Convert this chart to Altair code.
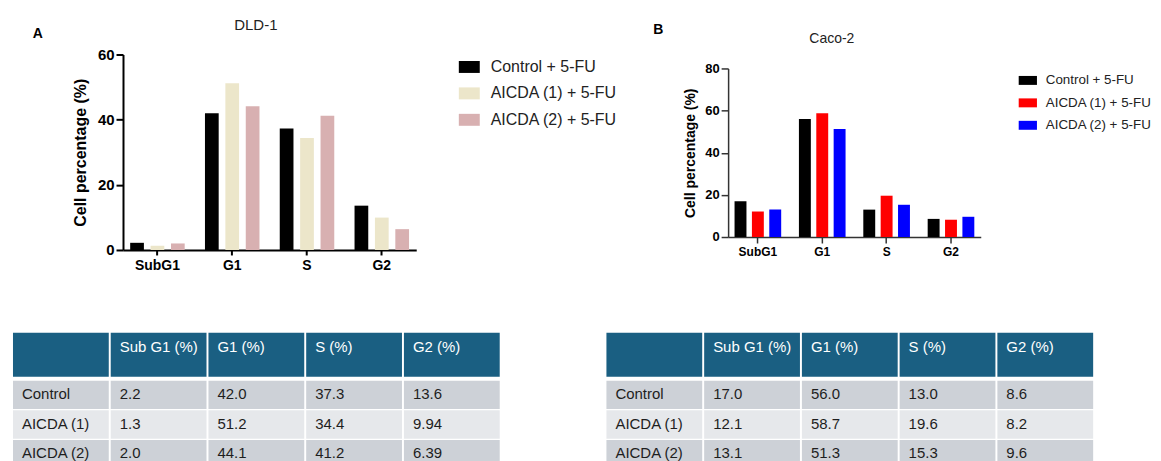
import altair as alt
import pandas as pd

# ---------------- data ----------------
phases = ["SubG1", "G1", "S", "G2"]
series = ["Control + 5-FU", "AICDA (1) + 5-FU", "AICDA (2) + 5-FU"]

dld1_control = [2.2, 42.0, 37.3, 13.6]
dld1_aicda1 = [1.3, 51.2, 34.4, 9.94]
dld1_aicda2 = [2.0, 44.1, 41.2, 6.39]

caco2_control = [17.0, 56.0, 13.0, 8.6]
caco2_aicda1 = [12.1, 58.7, 19.6, 8.2]
caco2_aicda2 = [13.1, 51.3, 15.3, 9.6]

panel_letters = ["A", "B"]
panel_titles = ["DLD-1", "Caco-2"]

table_columns = ["", "Sub G1 (%)", "G1 (%)", "S (%)", "G2 (%)"]
table_rows = ["Control", "AICDA (1)", "AICDA (2)"]
dld1_table = [["2.2", "42.0", "37.3", "13.6"],
              ["1.3", "51.2", "34.4", "9.94"],
              ["2.0", "44.1", "41.2", "6.39"]]
caco2_table = [["17.0", "56.0", "13.0", "8.6"],
               ["12.1", "58.7", "19.6", "8.2"],
               ["13.1", "51.3", "15.3", "9.6"]]

FONT = "Liberation Sans"
CELL_W = 488


def bar_panel(value_lists, colors, letter, title, cfg):
    rows = []
    for s, vals in zip(series, value_lists):
        for p, v in zip(phases, vals):
            rows.append({"phase": p, "series": s, "value": v})
    df = pd.DataFrame(rows)

    bars = alt.Chart(df).mark_bar().encode(
        x=alt.X("phase:N", sort=phases,
                scale=alt.Scale(domain=phases, range=cfg["xrange"], round=False,
                                paddingInner=cfg["pi"], paddingOuter=cfg["po"]),
                axis=alt.Axis(title=None, labelAngle=0, labelFontSize=cfg["xlab"],
                              labelFontWeight="bold", labelColor="black",
                              labelPadding=cfg["xlabpad"], tickSize=cfg["xtick"],
                              tickWidth=cfg["lw"], tickColor=cfg["axcol"],
                              domainColor=cfg["axcol"], domainWidth=cfg["lw"], grid=False)),
        xOffset=alt.XOffset("series:N", sort=series,
                            scale=alt.Scale(domain=series, round=False,
                                            paddingInner=cfg["opi"], paddingOuter=0)),
        y=alt.Y("value:Q",
                scale=alt.Scale(domain=[0, cfg["ymax"]], range=cfg["yrange"], nice=False),
                axis=alt.Axis(title="Cell percentage (%)", values=cfg["yvals"],
                              offset=-cfg["xrange"][0],
                              titleFontSize=cfg["ytitle"], titleFontWeight="bold",
                              titleColor="black", titlePadding=cfg["ytpad"],
                              labelFontSize=cfg["ylab"], labelFontWeight="bold",
                              labelColor="black", labelPadding=2,
                              tickSize=7, tickWidth=cfg["lw"], tickColor=cfg["axcol"],
                              domainColor=cfg["axcol"], domainWidth=cfg["lw"], grid=False)),
        color=alt.Color("series:N", sort=series,
                        scale=alt.Scale(domain=series, range=colors),
                        legend=alt.Legend(title=None, orient="none",
                                          legendX=cfg["legx"], legendY=cfg["legy"],
                                          symbolType=cfg["sym"], symbolSize=cfg["symsize"],
                                          symbolStrokeWidth=0, symbolOpacity=1,
                                          labelFontSize=cfg["leglab"], labelColor="#222222",
                                          labelOffset=cfg["laboff"], rowPadding=cfg["rowpad"],
                                          padding=0)),
    )

    letter_mark = alt.Chart(pd.DataFrame({"t": [letter]})).mark_text(
        align="left", baseline="alphabetic", fontSize=14, fontWeight="bold", color="black"
    ).encode(text="t:N", x=alt.value(cfg["letter_xy"][0]), y=alt.value(cfg["letter_xy"][1]))

    title_mark = alt.Chart(pd.DataFrame({"t": [title]})).mark_text(
        align="center", baseline="alphabetic", fontSize=cfg["titlefs"], color="#222222"
    ).encode(text="t:N", x=alt.value(cfg["title_xy"][0]), y=alt.value(cfg["title_xy"][1]))

    return alt.layer(bars, letter_mark, title_mark).properties(width=CELL_W, height=cfg["h"])


def table_panel(values):
    keys = ["c0", "c1", "c2", "c3", "c4"]
    head = pd.DataFrame({"col": keys, "label": table_columns, "part": ["header"] * 5})
    body_rows = []
    for r, vals in zip(table_rows, values):
        for k, t in zip(keys, [r] + vals):
            body_rows.append({"row": r, "col": k, "txt": t})
    body = pd.DataFrame(body_rows)

    xs = alt.Scale(domain=keys, range=[0, CELL_W], round=False, paddingInner=0.02, paddingOuter=0)
    yh = alt.Scale(domain=["header"], range=[0, 44], round=False, paddingInner=0, paddingOuter=0)
    yb = alt.Scale(domain=table_rows, range=[48, 136], round=False, paddingInner=0.045, paddingOuter=0)

    head_rect = alt.Chart(head).mark_rect(color="#1a5f82").encode(
        x=alt.X("col:N", scale=xs, axis=None),
        y=alt.Y("part:N", scale=yh, axis=None))
    head_text = alt.Chart(head).mark_text(
        align="left", baseline="middle", dx=9, dy=-7.3, fontSize=15, color="white"
    ).encode(
        x=alt.X("col:N", scale=xs, axis=None, bandPosition=0),
        y=alt.Y("part:N", scale=yh, axis=None),
        text="label:N")
    body_rect = alt.Chart(body).mark_rect().encode(
        x=alt.X("col:N", scale=xs, axis=None),
        y=alt.Y("row:N", scale=yb, axis=None),
        color=alt.Color("row:N", scale=alt.Scale(domain=table_rows,
                                                 range=["#cdd1d7", "#e6e8eb", "#cdd1d7"]),
                        legend=None))
    body_text = alt.Chart(body).mark_text(
        align="left", baseline="middle", dx=9, dy=-1, fontSize=15, color="#1e1e1e"
    ).encode(
        x=alt.X("col:N", scale=xs, axis=None, bandPosition=0),
        y=alt.Y("row:N", scale=yb, axis=None),
        text="txt:N")
    return alt.layer(head_rect, head_text, body_rect, body_text).resolve_scale(
        y="independent").properties(width=CELL_W, height=140)


cfg_a = dict(xrange=[110.3, 404.3], pi=0.271, po=0.096, opi=0.327,
             ymax=60, yvals=[0, 20, 40, 60], yrange=[196, 0], h=196,
             xlab=14, xlabpad=4, xtick=5, lw=2, axcol="black",
             ytitle=16, ytpad=9, ylab=15,
             legx=447, legy=2, sym="M-1,-0.571H1V0.571H-1Z", symsize=441,
             leglab=16, laboff=11, rowpad=7.5,
             letter_xy=(19.7, -16.3), title_xy=(243.5, -24.7), titlefs=15)

cfg_b = dict(xrange=[122, 375.3], pi=0.2755, po=0.1, opi=0.314,
             ymax=80, yvals=[0, 20, 40, 60, 80], yrange=[183, 14], h=183,
             xlab=12, xlabpad=4, xtick=6, lw=1.5, axcol="#333333",
             ytitle=14, ytpad=7, ylab=13,
             legx=413, legy=16.5, sym="M-1,-0.49H1V0.49H-1Z", symsize=335,
             leglab=13.4, laboff=8.5, rowpad=6.5,
             letter_xy=(47, -20.7), title_xy=(226, -11.3), titlefs=14)

chart_a = bar_panel([dld1_control, dld1_aicda1, dld1_aicda2],
                    ["#000000", "#ece6ca", "#d8b0b1"], panel_letters[0], panel_titles[0], cfg_a)
chart_b = bar_panel([caco2_control, caco2_aicda1, caco2_aicda2],
                    ["#000000", "#ff0000", "#0000ff"], panel_letters[1], panel_titles[1], cfg_b)
table_a = table_panel(dld1_table)
table_b = table_panel(caco2_table)

chart = alt.concat(
    chart_a, chart_b, table_a, table_b,
    columns=2,
    spacing=alt.RowColnumber(row=83, column=107),
    bounds="flush",
).resolve_scale(
    color="independent", xOffset="independent"
).properties(
    padding={"left": 4, "top": 8, "right": 0, "bottom": 0}
).configure(
    font=FONT
).configure_view(
    stroke="transparent"
)

chart.save("out.html", embed_options={"renderer": "svg", "actions": False})
